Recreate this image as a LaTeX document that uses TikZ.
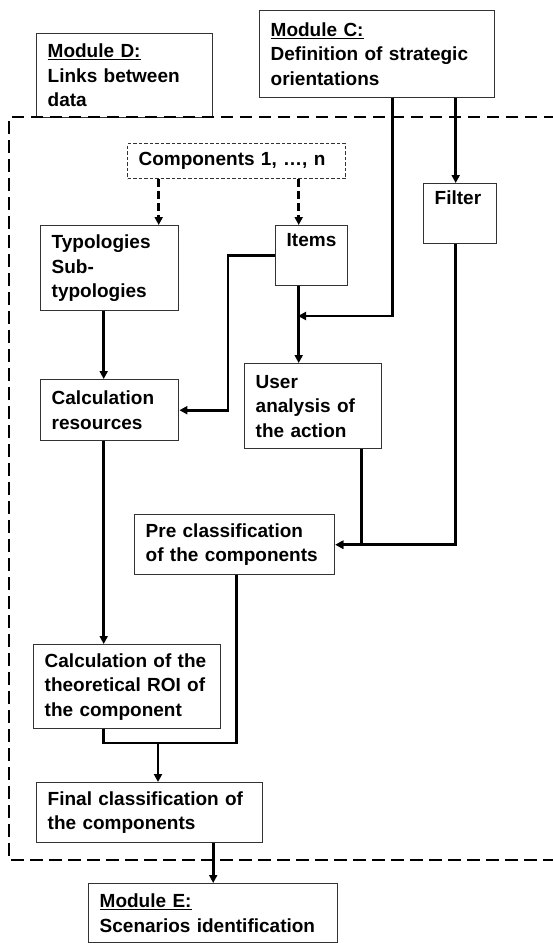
\documentclass[tikz,border=0pt]{standalone}
\usepackage{fontspec}
\setmainfont{Liberation Sans}
\usepackage{tikz}
\usetikzlibrary{positioning, arrows.meta}

\begin{document}
\begin{tikzpicture}[
    x=1pt, y=-1pt,
    font=\fontsize{19}{24.5}\selectfont\bfseries,
    box/.style={draw=black!80, line width=1.4pt, align=left, anchor=north west, inner xsep=11pt, inner ysep=0pt},
    compbox/.style={box, line width=1.1pt, dash pattern=on 3.5pt off 2pt},
    >={Triangle[length=8pt, width=8pt]}, arr/.style={->, line width=2.6pt},
    line/.style={line width=2.6pt},
    darr/.style={arr, dash pattern=on 8pt off 4pt},
    frame/.style={line width=2.4pt, dash pattern=on 12.5pt off 6.5pt},
  ]
    \useasboundingbox (0,0) rectangle (553,943);
    % modules outside the frame
    \node[box, text width=154pt, minimum height=84pt] (modD) at (36,33) {\underline{Module D:}\\Links between\\data};
    \node[box, text width=213pt, minimum height=87pt] (modC) at (259,10) {\underline{Module C:}\\Definition of strategic\\orientations};
    \draw[frame] (556,117) -- (9,117) -- (9,860) -- (556,860);
    % inside module D
    \node[compbox, text width=196pt, minimum height=35pt] (comp) at (127,143) {Components 1, \dots, n};
    \node[box, text width=116pt, minimum height=85pt] (typo) at (40,225) {Typologies\\Sub-\\typologies};
    \node[box, text width=50pt, minimum height=60pt] (items) at (275,225) {Items\\\strut};
    \node[box, text width=51pt, minimum height=60pt] (filter) at (423,183) {Filter\\\strut};
    \node[box, text width=116pt, minimum height=61pt] (calcres) at (40,379) {Calculation\\resources};
    \node[box, text width=115pt, minimum height=85pt] (user) at (244,363) {User\\analysis of\\the action};
    \node[box, text width=178pt, minimum height=60pt] (pre) at (134,514) {Pre classification\\of the components};
    \node[box, text width=165pt, minimum height=84pt] (roi) at (33,644) {Calculation of the\\theoretical ROI of\\the component};
    \node[box, text width=204pt, minimum height=60pt] (final) at (36,782) {Final classification of\\the components};
    \node[box, text width=227pt, minimum height=59pt] (modE) at (88,883) {\underline{Module E:}\\Scenarios identification};
    \coordinate (cjoin) at (298,316);
    \coordinate (merge) at (158,743);
    % connectors
    \draw[darr] ([xshift=49pt]typo.north |- comp.south) -- ([xshift=49pt]typo.north);
    \draw[darr] ([xshift=-13pt]items.north |- comp.south) -- ([xshift=-13pt]items.north);
    \draw[arr] ([xshift=-6pt]typo.south) -- ([xshift=-6pt]typo.south |- calcres.north);
    \draw[arr] (items.west) -- ++(-47,0) |- (calcres.east);
    \draw[arr] ([xshift=-13pt]items.south) -- ([xshift=-13pt]items.south |- user.north);
    \draw[arr] ([xshift=15.5pt]modC.south) |- (cjoin);
    \draw[arr] ([xshift=-4.5pt]filter.north |- modC.south) -- ([xshift=-4.5pt]filter.north);
    \draw[arr] ([xshift=48.5pt]user.south) |- (pre.east);
    \draw[arr] ([xshift=-4.5pt]filter.south) |- (pre.east);
    \draw[arr] ([xshift=-6pt]calcres.south) -- ([xshift=-6pt]calcres.south |- roi.north);
    \draw[line] ([xshift=-23.5pt]roi.south) |- (merge) -| ([xshift=2pt]pre.south);
    \draw[arr] (merge) -- (merge |- final.north);
    \draw[arr] (modE.north |- final.south) -- (modE.north);
\end{tikzpicture}
\end{document}
